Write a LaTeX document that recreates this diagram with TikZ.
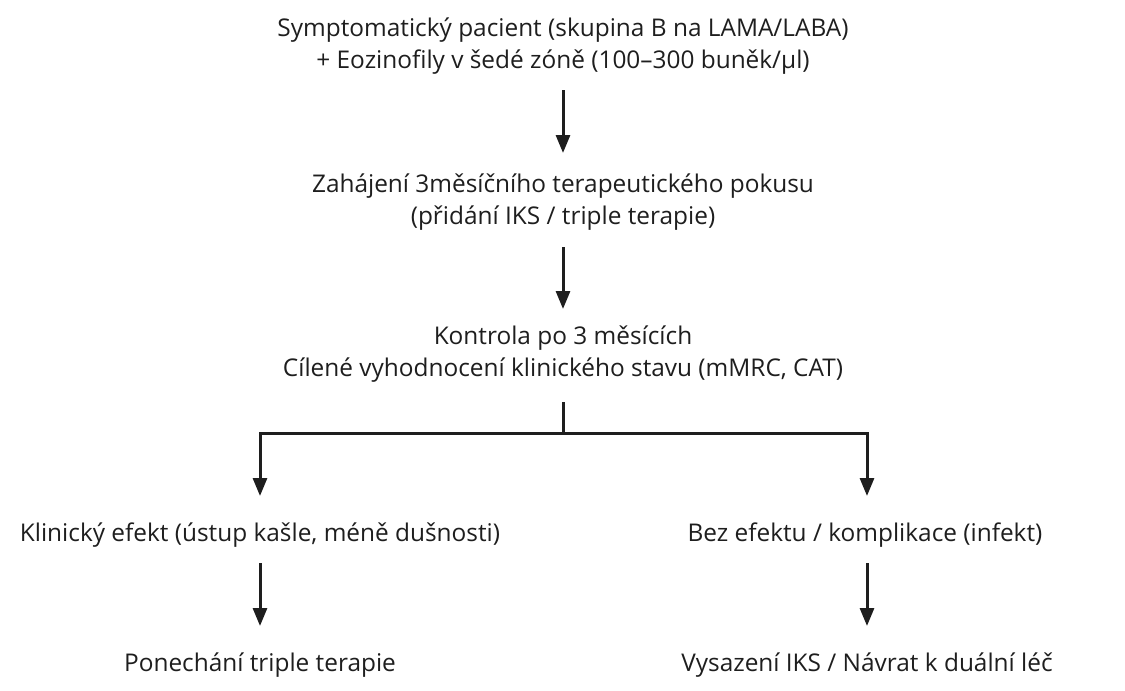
\documentclass[tikz,border=0pt]{standalone}
\usepackage{fontspec}
\setmainfont{Open Sans}
\usetikzlibrary{arrows.meta}
\definecolor{ink}{HTML}{1E1E1E}
\begin{document}
\begin{tikzpicture}[x=1pt,y=-1pt,
  lbl/.style={align=center,text=ink,font=\fontsize{24.4}{32}\selectfont,inner sep=0pt},
  conn/.style={draw=ink,line width=3pt,-{Triangle[length=18pt,width=14pt]}},
  seg/.style={draw=ink,line width=3pt}]
\useasboundingbox (0,0) rectangle (1125,691);
\node[lbl] (a) at (563,46) {Symptomatický pacient (skupina B na LAMA/LABA)\\+ Eozinofily v šedé zóně (100–300 buněk/µl)};
\node[lbl] (b) at (563,202) {Zahájení 3měsíčního terapeutického pokusu\\(přidání IKS / triple terapie)};
\node[lbl] (c) at (563,354) {Kontrola po 3 měsících\\Cílené vyhodnocení klinického stavu (mMRC, CAT)};
\node[lbl] (d) at (260,535) {Klinický efekt (ústup kašle, méně dušnosti)};
\node[lbl] (e) at (865,535) {Bez efektu / komplikace (infekt)};
\node[lbl] (f) at (260,665) {Ponechání triple terapie};
\node[lbl] (g) at (867,665) {Vysazení IKS / Návrat k duální léč};
\coordinate (a1) at (563,90); \coordinate (a2) at (563,153);
\coordinate (b1) at (563,247); \coordinate (b2) at (563,309);
\coordinate (c1) at (563,402); \coordinate (j) at (563,433);
\coordinate (jl) at (260,433); \coordinate (jr) at (867,433);
\coordinate (dl) at (260,496); \coordinate (dr) at (867,496);
\coordinate (d1) at (260,563); \coordinate (d2) at (260,626);
\coordinate (e1) at (867,563); \coordinate (e2) at (867,626);
\draw[conn] (a1) -- (a2);
\draw[conn] (b1) -- (b2);
\draw[seg] (c1) -- (j);
\draw[conn] (j) -- (jl) -- (dl);
\draw[conn] (j) -- (jr) -- (dr);
\draw[conn] (d1) -- (d2);
\draw[conn] (e1) -- (e2);
\end{tikzpicture}
\end{document}
